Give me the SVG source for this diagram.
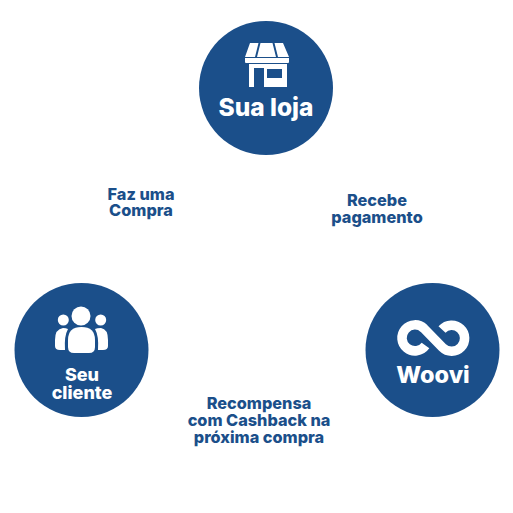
<svg xmlns="http://www.w3.org/2000/svg" width="513" height="513" viewBox="0 0 513 513">
<style>
.c{fill:#1b4f8a}
.w{fill:#fff}
text{font-family:"Inter","Noto Sans",sans-serif;font-weight:800;text-anchor:middle}
.l{fill:#1b4f8a;font-size:16.300px}
.n{fill:#fff}
.s{fill:none;stroke:#fff;stroke-width:9.500px}
</style>
<rect width="513" height="513" fill="#fff"/>
<g id="node-loja">
<circle class="c" cx="266" cy="88" r="67"/>
<path class="w" d="M250 43H258.500L255 57H245ZM260.500 43H272.500L276 57H257ZM274.500 43H283L289 57H278Z"/>
<path class="w" d="M245 58H289V62Q289 63 288 63H246Q245 63 245 62Z"/>
<path class="w" fill-rule="evenodd" d="M249 64H287V87H249ZM254 68V87H264V68ZM267 69V78H282V69Z"/>
<text class="n" x="266" y="115.500" font-size="24.500">Sua loja</text>
</g>
<g id="node-cliente">
<circle class="c" cx="81.500" cy="350" r="67"/>
<circle class="w" cx="81" cy="316" r="9.500"/>
<circle class="w" cx="63.300" cy="320" r="5.500"/>
<circle class="w" cx="100.700" cy="320" r="5.500"/>
<path class="w" d="M68 347V340Q68 327 81.500 327Q95 327 95 340V347Q95 353 89 353H74Q68 353 68 347Z"/>
<path class="w" d="M63 328Q55 329 55 340V346Q55 350 60 350H65Q64 336 68 329Q66 328 63 328Z"/>
<path class="w" d="M101 328Q108 329 108 340V346Q108 350 103 350H98Q99 336 95 329Q97 328 101 328Z"/>
<text class="n" x="82" y="381" font-size="18"><tspan x="82">Seu</tspan><tspan x="82" dy="18">cliente</tspan></text>
</g>
<g id="node-woovi">
<circle class="c" cx="432.500" cy="350" r="67"/>
<path class="s" d="M425.500 345.500A13 13 0 1 1 424 328.500L442.500 347.500A13 13 0 1 0 442 329.500"/>
<text class="n" x="433" y="383" font-size="23.500">Woovi</text>
</g>
<g id="connectors"></g>
<g id="labels">
<text class="l" x="141" y="200"><tspan x="141">Faz uma</tspan><tspan x="141" dy="16">Compra</tspan></text>
<text class="l" x="377" y="206"><tspan x="377">Recebe</tspan><tspan x="377" dy="16.500">pagamento</tspan></text>
<text class="l" x="259" y="409"><tspan x="259">Recompensa</tspan><tspan x="259" dy="17">com Cashback na</tspan><tspan x="259" dy="17">próxima compra</tspan></text>
</g>
</svg>
